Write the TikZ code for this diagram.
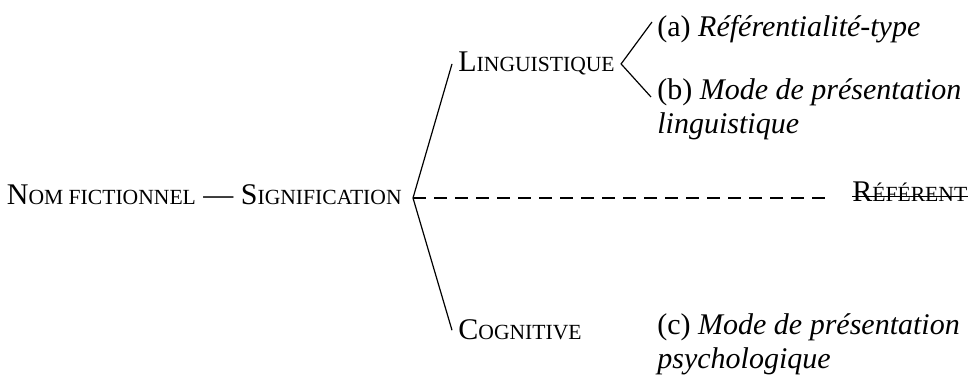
\documentclass[tikz,border=0pt]{standalone}
\usepackage{fontspec}
\setmainfont{Liberation Serif}
\usetikzlibrary{positioning}
% capital, then the rest in small capitals
\newcommand\smallcap[2]{#1{\fontsize{10.8}{13}\selectfont #2}}

\begin{document}
\begin{tikzpicture}[x=0.5pt, y=-0.5pt,
    every node/.style={font=\fontsize{15}{17}\selectfont, inner sep=0pt},
    term/.style={anchor=base west},
    leaf/.style={anchor=base west, align=left},
    branch/.style={line width=0.6pt}]
  \useasboundingbox (0,0) rectangle (975,378);
  \coordinate (fork) at (413,198);
  \node[left=5.5pt of fork, yshift=1.5pt] (nom) {\smallcap{N}{OM FICTIONNEL} --- \smallcap{S}{IGNIFICATION}};
  \node[term] (ling) at (458,72) {\smallcap{L}{INGUISTIQUE}};
  \node[term] (cog) at (458,340) {\smallcap{C}{OGNITIVE}};
  \node[term] (ref) at (852,202) {\smallcap{R}{ÉFÉRENT}};
  \node[leaf] (refa) at (657,37) {(a) \textit{Référentialité-type}};
  \node[leaf] (modeb) at (657,134) {(b) \textit{Mode de présentation}\\\textit{linguistique}};
  \node[leaf] (modec) at (657,369) {(c) \textit{Mode de présentation}\\\textit{psychologique}};
  \coordinate (bend) at ([xshift=3pt]ling.east);
  \draw[branch] ([xshift=-3pt]ling.west) -- (fork) -- ([xshift=-3pt]cog.west);
  \draw[branch, dash pattern=on 6.5pt off 4pt] (fork) -- ([xshift=-11pt]ref.west |- fork);
  \draw[branch] ([xshift=-2.5pt,yshift=7.5pt]refa.base west) -- (bend) -- ([xshift=-3pt,yshift=18.5pt]modeb.base west);
  % crossed-out referent
  \draw[line width=0.5pt] ([yshift=2.6pt]ref.base west) -- ([yshift=2.6pt]ref.base east);
\end{tikzpicture}
\end{document}
